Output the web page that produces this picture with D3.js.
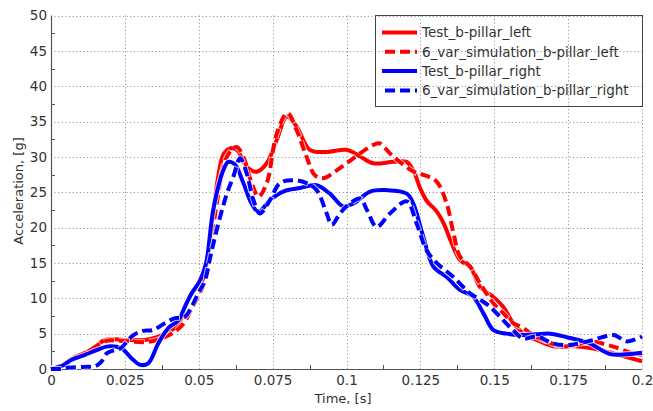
<!DOCTYPE html>
<html>
<head>
<meta charset="utf-8">
<script src="https://cdn.jsdelivr.net/npm/d3@7"></script>
<style>
  html, body { margin: 0; padding: 0; background: #fff; }
  svg { display: block; }
  text { font-family: "DejaVu Sans", Verdana, sans-serif; font-size: 13.5px; fill: #333; }
</style>
</head>
<body>
<svg id="chart" width="653" height="411"></svg>
<script>
// Time [ms], acceleration [g] samples for each B-pillar signal
const testLeft = [
  [0,0],[4,0.6],[7,1.5],[10,2],[12.6,2.5],[15,3.2],[18.3,4.1],[22,4.2],[25,4.1],[28,4.1],
  [31.8,4.1],[35,4.4],[37.5,4.8],[40,5.3],[43,6.2],[45.3,8.8],[47.6,10.7],[50,11.8],[51.5,12.8],
  [53,16],[54.9,22],[56.5,27],[58.3,30.3],[60.6,31.2],[62.9,31],[66.2,28.6],[69.6,27.9],[73,29.1],
  [76.4,32.4],[79.8,35.7],[83.1,34.3],[87.6,31],[93.3,30.7],[100,31],[104.5,30.1],[109,29.1],
  [115.8,29.3],[120.3,29.3],[122.6,28.1],[125,25.5],[127.1,23.8],[130.5,22.3],[133,20.5],[135,18.4],
  [138.4,15.4],[141.8,14.5],[145.2,11.6],[149.7,10.2],[153,8.8],[156.4,6.5],[159.8,5],[164.4,4.1],
  [170,3.2],[176.8,3.2],[183.5,2.9],[190.3,2.2],[200,1.1]
];
const simLeft = [
  [0,0],[4,0.6],[7,1.4],[10,2],[13,2.6],[16,3.4],[19,4],[23,4],[27,3.9],[31,3.8],[35,4],
  [39,4.6],[42,5.3],[45,6.5],[47.5,8.5],[49.5,10],[51.8,12.1],[54,17],[56.1,23.4],[59.5,30],
  [62.8,31.4],[65.1,30],[67.9,26.3],[70.2,24.4],[73,26.3],[76.4,33.3],[80,36.2],[83.1,33.8],
  [86.5,30],[89.3,27.4],[92.2,27],[96.7,28.1],[102.3,29.8],[109.1,31.7],[111.3,31.9],[114.7,30.5],
  [119.2,28.9],[123.7,27.7],[126.5,27.4],[130.5,26.5],[133.9,23.4],[136.2,19.2],[138.4,15.9],
  [141.8,14.5],[145.2,12.1],[149.7,9.3],[153,7.9],[156.4,6.5],[159.8,5.8],[162.5,5],[167.7,3.9],
  [173.4,3.2],[177.5,3.4],[182.4,3.9],[190,3.2],[197,2.2],[200,2]
];
const testRight = [
  [0,0],[4,0.5],[7,1.3],[11.5,2],[15,2.6],[19.4,3.2],[23.9,2.9],[27.3,1.5],[30.1,0.6],[32.9,0.8],
  [36.3,3.6],[39.7,5.8],[43.1,6.9],[45.3,8.8],[47.6,10.7],[50.4,12.5],[52.5,15],[54.9,22.5],
  [58.3,28.1],[60,29.3],[62.3,28.9],[65.1,26.3],[67.9,23.4],[70.2,22.2],[74.1,23.9],[78.6,25.1],
  [84.3,25.6],[89.9,26],[94.4,24.8],[98.9,23],[102.3,23.4],[108,25.1],[113.6,25.3],[120.4,24.8],
  [122.6,23.4],[126,18.7],[129.4,14.5],[133.9,13],[138.4,11.2],[142.9,10.2],[146.3,7.9],
  [149.7,5.5],[154.2,5],[158.7,4.8],[164,4.9],[168.9,5],[174.5,4.5],[182.4,3.6],[189.2,2.1],
  [195,2.1],[200,2.3]
];
const simRight = [
  [0,0],[3,0],[6,0.2],[11,0.3],[15,0.4],[17,1],[18.8,2.2],[21,2.6],[23.4,2.9],[27.9,4.8],
  [31.2,5.4],[34.5,5.5],[38.6,6.5],[42,7.2],[45.3,7.4],[47.6,8.8],[49.8,10.7],[52,12.4],[54,16],
  [56.1,19.7],[59.5,24.8],[61.7,27.2],[64,29.8],[66.2,27.7],[68.5,23.9],[70.7,22],[74.1,23.9],
  [77.5,26.3],[82,26.7],[86.5,26.3],[89.9,25.3],[93.3,22],[95,20.4],[97.8,22],[100,23],
  [104.6,24.1],[106.9,22.5],[110.2,20.1],[114.7,22],[120.4,23.7],[123.7,20.6],[127.1,16.8],
  [130.5,15],[136.2,13],[141.8,10.7],[145.2,9.8],[148.6,8.8],[153,6.9],[156.4,5.5],[159.8,4.3],
  [164.4,4.6],[170,3.6],[175.6,3.4],[183.5,4.1],[190.3,4.8],[195,3.9],[200,4.6]
];

const seriesNames = [
  "Test_b-pillar_left",
  "6_var_simulation_b-pillar_left",
  "Test_b-pillar_right",
  "6_var_simulation_b-pillar_right"
];
const seriesValues = [testLeft, simLeft, testRight, simRight];
const seriesColors = ["#ff0000", "#ff0000", "#0000ff", "#0000ff"];
const seriesDashed = [false, true, false, true];

const xTickValues = [0, 0.025, 0.05, 0.075, 0.1, 0.125, 0.15, 0.175, 0.2];
const xTickLabels = ["0", "0.025", "0.05", "0.075", "0.1", "0.125", "0.15", "0.175", "0.2"];
const yTickValues = [0, 5, 10, 15, 20, 25, 30, 35, 40, 45, 50];
const yTickLabels = ["0", "5", "10", "15", "20", "25", "30", "35", "40", "45", "50"];

const svg = d3.select("#chart");
const plotLeft = 51, plotRight = 642, plotTop = 15.5, plotBottom = 369;
const fontFamily = "'DejaVu Sans', Verdana, sans-serif";

const x = d3.scaleLinear().domain([0, 0.2]).range([plotLeft, plotRight]);
const y = d3.scaleLinear().domain([0, 50]).range([plotBottom, plotTop]);

// dotted grid
const grid = svg.append("g").attr("stroke", "#8a8a8a").attr("stroke-width", 1)
  .attr("stroke-dasharray", "1,2.6");
grid.selectAll("line.v").data(xTickValues.slice(1)).join("line")
  .attr("x1", d => Math.round(x(d)) + 0.5).attr("x2", d => Math.round(x(d)) + 0.5)
  .attr("y1", plotTop).attr("y2", plotBottom);
grid.selectAll("line.h").data(yTickValues.slice(1)).join("line")
  .attr("y1", d => Math.round(y(d)) + 0.5).attr("y2", d => Math.round(y(d)) + 0.5)
  .attr("x1", plotLeft).attr("x2", plotRight);

// axes: labels only, with inward minor ticks
const xAxis = svg.append("g").attr("transform", `translate(0,${plotBottom})`)
  .call(d3.axisBottom(x).tickValues(xTickValues).tickSize(0).tickPadding(6)
    .tickFormat((d, i) => xTickLabels[i]));
xAxis.select(".domain").remove();
xAxis.selectAll("text").attr("fill", "#333").style("font-size", "13.5px")
  .style("font-family", fontFamily);

const yAxis = svg.append("g").attr("transform", `translate(${plotLeft},0)`)
  .call(d3.axisLeft(y).tickValues(yTickValues).tickSize(0).tickPadding(4)
    .tickFormat((d, i) => yTickLabels[i]));
yAxis.select(".domain").remove();
yAxis.selectAll("text").attr("fill", "#333").style("font-size", "13.5px")
  .style("font-family", fontFamily);

const xMinor = d3.range(0.0125, 0.2, 0.025);
const yMinor = d3.range(2.5, 50, 5);
svg.append("g").attr("stroke", "#555")
  .selectAll("line").data(xMinor).join("line")
  .attr("x1", d => Math.round(x(d)) + 0.5).attr("x2", d => Math.round(x(d)) + 0.5)
  .attr("y1", plotBottom).attr("y2", plotBottom - 4);
svg.append("g").attr("stroke", "#555")
  .selectAll("line").data(yMinor).join("line")
  .attr("y1", d => Math.round(y(d)) + 0.5).attr("y2", d => Math.round(y(d)) + 0.5)
  .attr("x1", plotLeft).attr("x2", plotLeft + 4);

svg.append("line").attr("x1", plotLeft + 0.5).attr("x2", plotLeft + 0.5)
  .attr("y1", plotTop).attr("y2", plotBottom + 0.5).attr("stroke", "#555").attr("stroke-width", 1.2);
svg.append("line").attr("x1", plotLeft).attr("x2", plotRight)
  .attr("y1", plotBottom + 0.5).attr("y2", plotBottom + 0.5).attr("stroke", "#555").attr("stroke-width", 1.2);

// axis titles
svg.append("text").attr("x", 343).attr("y", 403).attr("text-anchor", "middle")
  .style("font-size", "13px").text("Time, [s]");
svg.append("text").attr("transform", "translate(23,191) rotate(-90)")
  .attr("text-anchor", "middle").style("font-size", "13px").text("Acceleration, [g]");

// curves
const line = d3.line()
  .x(d => x(d[0] / 1000))
  .y(d => y(d[1]))
  .curve(d3.curveCatmullRom.alpha(0.5));

const curves = svg.append("g");
seriesValues.forEach((vals, i) => {
  const g = curves.append("g");
  g.append("path").attr("d", line(vals)).attr("fill", "none")
    .attr("stroke", "#fff").attr("stroke-opacity", 0.7).attr("stroke-width", 6)
    .attr("stroke-linejoin", "round")
    .attr("stroke-dasharray", seriesDashed[i] ? "11,4" : null);
  g.append("path").attr("d", line(vals)).attr("fill", "none")
    .attr("stroke", seriesColors[i]).attr("stroke-width", 4)
    .attr("stroke-linejoin", "round")
    .attr("stroke-dasharray", seriesDashed[i] ? "10,5" : null);
});

// legend
const lg = svg.append("g");
lg.append("rect").attr("x", 375.5).attr("y", 15.5).attr("width", 267).attr("height", 91)
  .attr("fill", "none").attr("stroke", "#444").attr("stroke-width", 1);
seriesNames.forEach((name, i) => {
  const cy = 32.5 + i * 19.3;
  lg.append("line").attr("x1", 382).attr("x2", 417).attr("y1", cy).attr("y2", cy)
    .attr("stroke", seriesColors[i]).attr("stroke-width", 4)
    .attr("stroke-dasharray", seriesDashed[i] ? "10,5" : null)
    .attr("stroke-dashoffset", seriesDashed[i] ? -3 : null);
  lg.append("text").attr("x", 422).attr("y", cy).attr("dy", "0.35em").text(name);
});
</script>
</body>
</html>
